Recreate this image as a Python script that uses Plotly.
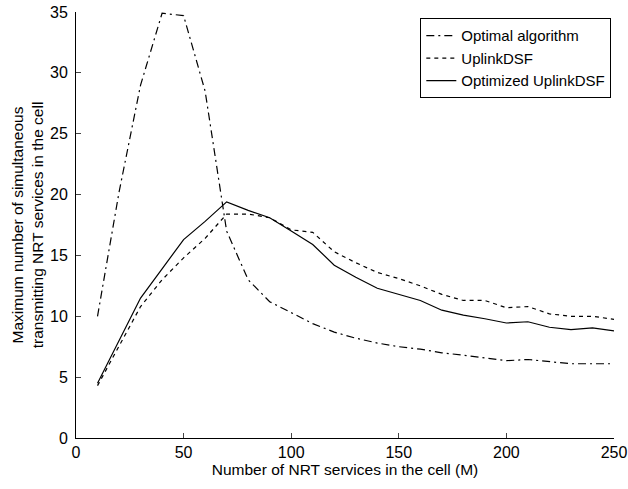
import plotly.graph_objects as go

# Number of NRT services in the cell (M)
m_values = [10, 20, 30, 40, 50, 60, 70, 80, 90, 100, 110, 120, 130, 140, 150,
            160, 170, 180, 190, 200, 210, 220, 230, 240, 250]

optimal_algorithm = [10.0, 20.2, 29.0, 34.9, 34.7, 28.5, 17.0, 13.0, 11.2, 10.3,
                     9.4, 8.7, 8.2, 7.8, 7.5, 7.3, 7.0, 6.8, 6.6, 6.35,
                     6.45, 6.3, 6.1, 6.1, 6.1]

uplink_dsf = [4.3, 7.6, 10.8, 13.0, 14.8, 16.4, 18.4, 18.4, 18.1, 17.1,
              16.9, 15.3, 14.4, 13.6, 13.1, 12.5, 11.8, 11.3, 11.3, 10.7,
              10.8, 10.2, 10.0, 10.0, 9.75]

optimized_uplink_dsf = [4.5, 8.0, 11.5, 13.9, 16.3, 17.8, 19.4, 18.7, 18.1, 17.0,
                        15.9, 14.2, 13.2, 12.3, 11.8, 11.3, 10.5, 10.1, 9.8, 9.45,
                        9.55, 9.1, 8.9, 9.05, 8.8]

series_names = ["Optimal algorithm", "UplinkDSF", "Optimized UplinkDSF"]
x_ticks = [0, 50, 100, 150, 200, 250]
y_ticks = [0, 5, 10, 15, 20, 25, 30, 35]

FONT = "Liberation Sans, Arial, sans-serif"

fig = go.Figure()
fig.add_trace(go.Scatter(x=m_values, y=optimal_algorithm, mode="lines",
                         name=series_names[0],
                         line=dict(color="black", width=1.2, dash="8px,4px,2px,4px")))
fig.add_trace(go.Scatter(x=m_values, y=uplink_dsf, mode="lines",
                         name=series_names[1],
                         line=dict(color="black", width=1.2, dash="4px,4px")))
fig.add_trace(go.Scatter(x=m_values, y=optimized_uplink_dsf, mode="lines",
                         name=series_names[2],
                         line=dict(color="black", width=1.2)))

fig.update_layout(
    width=628, height=489,
    margin=dict(l=76, r=14, t=12, b=51),
    paper_bgcolor="white", plot_bgcolor="white",
    font=dict(family=FONT, size=15, color="black"),
    showlegend=True,
    legend=dict(x=0.995, y=0.985, xanchor="right", yanchor="top",
                bgcolor="white", bordercolor="black", borderwidth=1,
                font=dict(size=15), tracegroupgap=0,
                itemwidth=30),
    xaxis=dict(range=[0, 250], tickvals=x_ticks, ticks="inside", ticklen=5,
               showline=True, linecolor="black", linewidth=1,
               showgrid=False, zeroline=False, automargin=False,
               tickfont=dict(size=16),
               title=dict(text="Number of NRT services in the cell (M)",
                          font=dict(size=15.5), standoff=0)),
    yaxis=dict(range=[0, 35], tickvals=y_ticks, ticks="inside", ticklen=5,
               showline=True, linecolor="black", linewidth=1,
               showgrid=False, zeroline=False, automargin=False,
               tickfont=dict(size=16), ticklabelstandoff=4,
               title=dict(text="Maximum number of simultaneous<br>transmitting NRT services in the cell",
                          font=dict(size=15.5), standoff=2)),
)

fig.write_html("out.html", config={"displayModeBar": False},
               post_script="document.body.style.margin='0';document.body.style.overflow='hidden';")
